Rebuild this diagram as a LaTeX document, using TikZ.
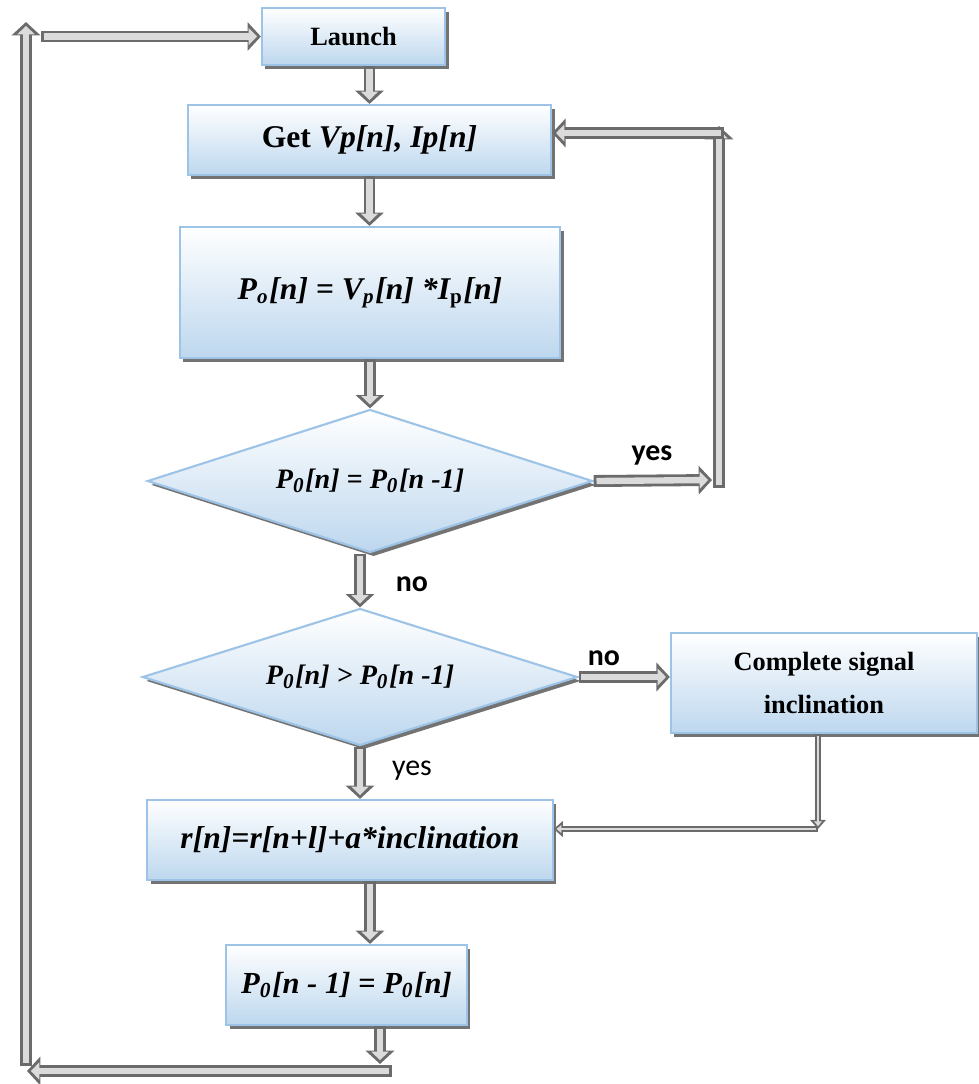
\documentclass[tikz,border=0pt]{standalone}
\usepackage{fontspec}
\setmainfont{Liberation Serif}
\newfontfamily\labelfont{Carlito}
\usetikzlibrary{shapes.geometric,shadows,arrows.meta}

\definecolor{boxline}{RGB}{157,195,230}
\definecolor{boxbottom}{RGB}{189,215,238}

\begin{document}
\begin{tikzpicture}[x=0.01cm,y=-0.01cm]
\tikzstyle{step box} = [draw=boxline, line width=0.6pt, top color=white, bottom color=boxbottom, inner sep=0pt, align=center,
  drop shadow={shadow xshift=1pt, shadow yshift=-1.1pt, fill=black!55, opacity=1}]
\tikzstyle{test box} = [step box, shape=diamond, aspect=3.1, inner sep=0pt]
\tikzstyle{flow edge} = [draw=black!58, line width=3.4pt, -{Triangle[length=3.8pt, width=8pt]},
  postaction={draw=black!14, line width=1.8pt, shorten <=0.8pt, shorten >=1.1pt, -{Triangle[length=2.4pt, width=4.8pt]}}]
\tikzstyle{thin flow edge} = [draw=black!58, line width=1.8pt, -{Triangle[length=2.6pt, width=4.4pt]},
  postaction={draw=black!14, line width=0.6pt, shorten <=0.5pt, shorten >=0.8pt, -{Triangle[length=1.4pt, width=2.2pt]}}]
\tikzstyle{bold label} = [font=\labelfont\bfseries\fontsize{8.5}{10}\selectfont, inner sep=0pt]
\tikzstyle{plain label} = [font=\labelfont\fontsize{8.5}{10}\selectfont, inner sep=0pt]

\useasboundingbox (0,0) rectangle (979,1084);

% steps
\node[step box, minimum width=1.83cm, minimum height=0.57cm, font=\fontsize{7.5}{9}\selectfont] (launch) at (353.5,36.5) {\textbf{Launch}};
\node[step box, minimum width=3.63cm, minimum height=0.70cm, font=\fontsize{9}{11}\selectfont] (get) at (369.5,140) {\textbf{Get \textit{Vp[n], Ip[n]}}};
\node[step box, minimum width=3.80cm, minimum height=1.31cm, font=\fontsize{9}{11}\selectfont] (power) at (370,292.5) {\textbf{\textit{P\textsubscript{o}[n] = V\textsubscript{p}[n] *I\textsubscript{\upshape p}[n]}}};
\node[test box, minimum width=4.45cm, minimum height=1.43cm, font=\fontsize{8}{10}\selectfont] (equal) at (370,481) {\textbf{\textit{P\textsubscript{0}[n] = P\textsubscript{0}[n -1]}}};
\node[test box, minimum width=4.35cm, minimum height=1.37cm, font=\fontsize{8}{10}\selectfont] (greater) at (360,677) {\textbf{\textit{P\textsubscript{0}[n] > P\textsubscript{0}[n -1]}}};
\node[step box, minimum width=3.06cm, minimum height=1.00cm, font=\fontsize{7.5}{10}\selectfont] (complete) at (824,683) {\textbf{Complete signal}\\[2pt]\textbf{inclination}};
\node[step box, minimum width=4.05cm, minimum height=0.80cm, font=\fontsize{9}{11}\selectfont] (update) at (350,840) {\textbf{\textit{r[n]=r[n+l]+a*inclination}}};
\node[step box, minimum width=2.40cm, minimum height=0.80cm, font=\fontsize{8.7}{11}\selectfont] (store) at (346.5,985) {\textbf{\textit{P\textsubscript{0}[n - 1] = P\textsubscript{0}[n]}}};

% corners of the loops
\coordinate (c_1) at (712,480);
\coordinate (c_2) at (719,488);
\coordinate (c_3) at (719,126);
\coordinate (c_4) at (724,133);
\coordinate (c_5) at (818,829);
\coordinate (c_6) at (370,0);
\coordinate (c_7) at (380,1064);
\coordinate (c_8) at (392,1071);
\coordinate (c_9) at (27,1071);
\coordinate (c_10) at (26,1066);
\coordinate (c_11) at (26,22);
\coordinate (c_12) at (41,36.5);

% main line
\path[flow edge] (get.north |- launch.south) -- (get.north);
\path[flow edge] (get.south) -- (get.south |- power.north);
\path[flow edge] (power.south) -- (equal.north);
\path[flow edge] (greater.north |- equal.south) -- (greater.north);
\path[flow edge] (greater.south) -- (greater.south |- update.north);
\path[flow edge] (update.south -| c_6) -- (store.north -| c_6);

% yes loop back to the measurement
\path[flow edge] (equal.east) -- (c_1);
\path[flow edge] (c_2) -- (c_3);
\path[flow edge] (c_4) -- (c_4 -| get.east);

% no branch
\path[flow edge] (greater.east) -- (greater.east -| complete.west);
\path[thin flow edge] (complete.south -| c_5) -- (c_5);
\path[thin flow edge] (c_5) -- (c_5 -| update.east);

% restart loop
\path[flow edge] (store.south -| c_7) -- (c_7);
\path[flow edge] (c_8) -- (c_9);
\path[flow edge] (c_10) -- (c_11);
\path[flow edge] (c_12) -- (launch.west);

% branch labels
\node[bold label] (yes_1) at (652,455) {yes};
\node[bold label] (no_1) at (412,584) {no};
\node[bold label] (no_2) at (604,658) {no};
\node[plain label] (yes_2) at (412,771) {yes};
\end{tikzpicture}
\end{document}
